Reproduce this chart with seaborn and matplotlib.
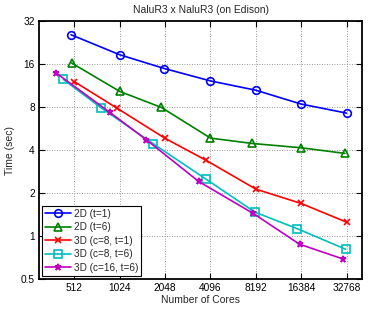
import numpy as np
import pandas as pd
import matplotlib
matplotlib.use("Agg")
import matplotlib.pyplot as plt
import seaborn as sns
from matplotlib.ticker import FixedLocator, FixedFormatter, NullLocator

# values (cores, seconds)
labels = ["2D (t=1)", "2D (t=6)", "3D (c=8, t=1)", "3D (c=8, t=6)", "3D (c=16, t=6)"]
cores_2d_t1 = [486, 1024, 2025, 4096, 8192, 16384, 32768]
time_2d_t1 = [25.7, 18.6, 14.9, 12.2, 10.5, 8.4, 7.26]
cores_2d_t6 = [490, 1024, 1936, 4096, 7744, 16384, 32000]
time_2d_t6 = [16.3, 10.3, 7.95, 4.85, 4.45, 4.15, 3.79]
cores_3d_c8_t1 = [512, 980, 2048, 3830, 8192, 16384, 32768]
time_3d_c8_t1 = [12.05, 7.87, 4.83, 3.39, 2.13, 1.69, 1.25]
cores_3d_c8_t6 = [432, 774, 1712, 3830, 8070, 15400, 32300]
time_3d_c8_t6 = [12.5, 7.87, 4.42, 2.5, 1.47, 1.126, 0.808]
cores_3d_c16_t6 = [386, 880, 1530, 3420, 7860, 16000, 31100]
time_3d_c16_t6 = [13.9, 7.34, 4.74, 2.41, 1.44, 0.875, 0.69]

xticks = [512, 1024, 2048, 4096, 8192, 16384, 32768]
yticks = [0.5, 1, 2, 4, 8, 16, 32]
ytick_labels = ["0.5", "1", "2", "4", "8", "16", "32"]

series = [
    (cores_2d_t1, time_2d_t1, "#0000ff", "o", 5.5),
    (cores_2d_t6, time_2d_t6, "#008000", "^", 6),
    (cores_3d_c8_t1, time_3d_c8_t1, "#ff0000", "x", 4),
    (cores_3d_c8_t6, time_3d_c8_t6, "#00bfbf", "s", 6),
    (cores_3d_c16_t6, time_3d_c16_t6, "#bf00bf", "*", 5),
]

sns.set_style("ticks")
plt.rcParams["font.family"] = ["Liberation Sans", "DejaVu Sans"]

fig = plt.figure(figsize=(3.72, 3.11), dpi=100)
ax = fig.add_axes([0.105, 0.103, 0.868, 0.829])

for (x, y, color, marker, ms), label in zip(series, labels):
    df = pd.DataFrame({"cores": x, "time": y})
    sns.lineplot(data=df, x="cores", y="time", ax=ax, color=color, marker=marker,
                 markersize=ms, markerfacecolor="none", markeredgecolor=color,
                 markeredgewidth=1.2, linewidth=1.2, label=label, sort=False)

ax.set_xscale("log", base=2)
ax.set_yscale("log", base=2)
ax.set_xlim(2 ** 8.22, 2 ** 15.34)
ax.set_ylim(0.5, 32)
ax.xaxis.set_major_locator(FixedLocator(xticks))
ax.xaxis.set_major_formatter(FixedFormatter([str(t) for t in xticks]))
ax.yaxis.set_major_locator(FixedLocator(yticks))
ax.yaxis.set_major_formatter(FixedFormatter(ytick_labels))
ax.xaxis.set_minor_locator(NullLocator())
ax.yaxis.set_minor_locator(NullLocator())

ax.grid(True, which="major", color="#777777", linestyle=(0, (1, 2)), linewidth=0.6)
ax.tick_params(direction="in", length=4, width=0.8, top=True, right=True,
               labelsize=7.3, colors="black", pad=3)
for sp in ax.spines.values():
    sp.set_visible(True)
    sp.set_linewidth(1.3)
    sp.set_color("black")

ax.set_title("NaluR3 x NaluR3 (on Edison)", fontsize=7.5, pad=6)
ax.set_xlabel("Number of Cores", fontsize=7.5, labelpad=1)
ax.set_ylabel("Time (sec)", fontsize=7.5, labelpad=4)

leg = ax.legend(loc="lower left", fontsize=7.2, frameon=True, fancybox=False,
                edgecolor="black", framealpha=1, borderaxespad=0.3,
                handlelength=2.6, handletextpad=0.3, labelspacing=0.35,
                borderpad=0.3)
leg.get_frame().set_linewidth(0.8)

fig.savefig("out.png", dpi=100)
